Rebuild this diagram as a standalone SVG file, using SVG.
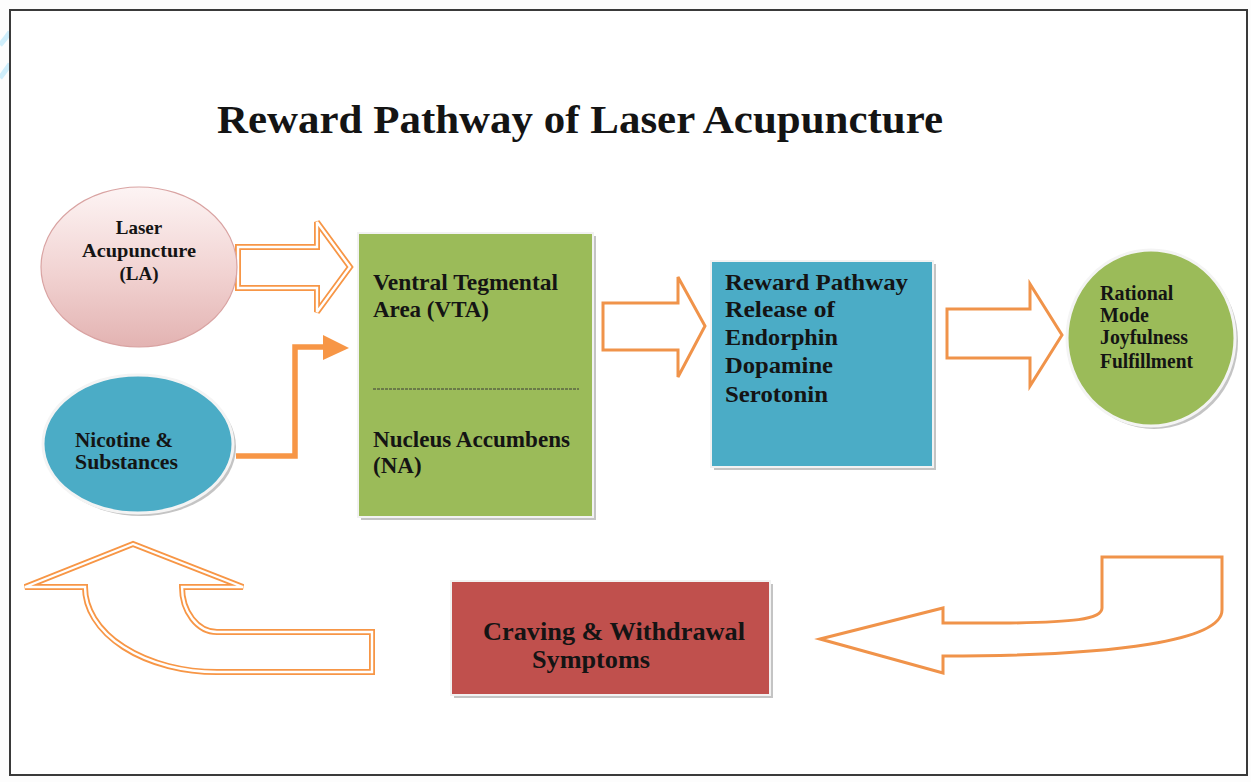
<svg xmlns="http://www.w3.org/2000/svg" width="1251" height="782" viewBox="0 0 1251 782">
<defs>
<linearGradient id="pinkGrad" x1="0" y1="0" x2="0" y2="1">
<stop offset="0" stop-color="#fdf4f4"/>
<stop offset="0.55" stop-color="#f1d2d1"/>
<stop offset="1" stop-color="#e3b3b2"/>
</linearGradient>
<style>
.t{font-family:"Liberation Serif","Times New Roman",serif;font-weight:bold;fill:#141414}
.dbl-o{fill:#fff;stroke:#f79646;stroke-width:6;stroke-linejoin:miter;stroke-miterlimit:3}
.dbl-i{fill:none;stroke:#fff;stroke-width:2.4;stroke-linejoin:miter;stroke-miterlimit:3}
.sgl{fill:#fff;stroke:#f0934a;stroke-width:3;stroke-linejoin:miter}
.shadow{fill:#c4c4c4}
</style>
</defs>
<rect x="0" y="0" width="1251" height="782" fill="#fdfdfd"/>
<path d="M0 45 Q6 38 10 32 M0 78 Q6 70 10 64" stroke="#cfeefb" stroke-width="5" fill="none"/>
<rect x="10" y="10" width="1237" height="765" fill="#fff" stroke="#3a3a3a" stroke-width="2"/>
<text class="t" x="217" y="133" font-size="41" textLength="726" lengthAdjust="spacingAndGlyphs">Reward Pathway of Laser Acupuncture</text>

<g id="connectors">
<g id="arrow-la-vta">
<path class="dbl-o" d="M238 247 L317 247 L317 222 L350 267 L317 312 L317 288 L238 288 Z"/>
<path class="dbl-i" d="M238 247 L317 247 L317 222 L350 267 L317 312 L317 288 L238 288 Z"/>
</g>
<g id="arrow-nic-vta">
<path d="M236 456 H295 V347 H326" fill="none" stroke="#f79646" stroke-width="5.5"/>
<polygon points="323,335 349,348 323,360" fill="#f79646"/>
</g>
<path id="arrow-vta-reward" class="sgl" d="M603 303 L678 303 L678 277 L705 326 L678 377 L678 350 L603 350 Z"/>
<path id="arrow-reward-rational" class="sgl" d="M947 309 L1030 309 L1030 284 L1062 335 L1030 386 L1030 358 L947 358 Z"/>
<path id="arrow-back-craving" class="sgl" stroke-width="2.6" d="M820 639 L943 608 L943 623 L1010 623 C1070 622 1102 620 1102 608 L1102 557 L1222 557 L1222 610 C1222 640 1120 656 943 656 L943 673 Z"/>
<g id="arrow-craving-nic">
<path class="dbl-o" d="M133 544 L25 587 L85 587 A132 85 0 0 0 217 672 L372 672 L372 632 L217 632 A35 45 0 0 1 182 587 L243 587 Z"/>
<path class="dbl-i" d="M133 544 L25 587 L85 587 A132 85 0 0 0 217 672 L372 672 L372 632 L217 632 A35 45 0 0 1 182 587 L243 587 Z"/>
</g>
</g>

<g id="node-la">
<ellipse cx="139" cy="267" rx="98" ry="80" fill="url(#pinkGrad)" stroke="#d9a3a2" stroke-width="1.2"/>
<text class="t" font-size="19" text-anchor="middle" x="139" y="234">Laser</text>
<text class="t" font-size="19" text-anchor="middle" x="139" y="257" textLength="114" lengthAdjust="spacingAndGlyphs">Acupuncture</text>
<text class="t" font-size="19" text-anchor="middle" x="139" y="280">(LA)</text>
</g>

<g id="node-nicotine">
<ellipse cx="141" cy="447" rx="95" ry="69" class="shadow"/>
<ellipse cx="138" cy="444" rx="95" ry="69" fill="#4bacc6" stroke="#f4f4f4" stroke-width="3"/>
<text class="t" font-size="20" x="75" y="447" textLength="98" lengthAdjust="spacingAndGlyphs">Nicotine &amp;</text>
<text class="t" font-size="20" x="75" y="469" textLength="103" lengthAdjust="spacingAndGlyphs">Substances</text>
</g>

<g id="node-vta">
<rect x="361" y="236" width="235" height="284" class="shadow"/>
<rect x="358" y="233" width="235" height="284" fill="#9bbb59" stroke="#f2f2f2" stroke-width="2"/>
<text class="t" font-size="23" x="373" y="290" textLength="185" lengthAdjust="spacingAndGlyphs">Ventral Tegmental</text>
<text class="t" font-size="23" x="373" y="317">Area (VTA)</text>
<line x1="373" y1="389" x2="579" y2="389" stroke="#3a3a3a" stroke-width="1" stroke-dasharray="3,1"/>
<text class="t" font-size="23" x="373" y="447" textLength="197" lengthAdjust="spacingAndGlyphs">Nucleus Accumbens</text>
<text class="t" font-size="23" x="373" y="473">(NA)</text>
</g>

<g id="node-reward">
<rect x="714" y="264" width="222" height="206" class="shadow"/>
<rect x="711" y="261" width="222" height="206" fill="#4bacc6" stroke="#f2f2f2" stroke-width="2"/>
<text class="t" font-size="24" x="725" y="290" textLength="183" lengthAdjust="spacingAndGlyphs">Reward Pathway</text>
<text class="t" font-size="24" x="725" y="317" textLength="110" lengthAdjust="spacingAndGlyphs">Release of</text>
<text class="t" font-size="24" x="725" y="345" textLength="113" lengthAdjust="spacingAndGlyphs">Endorphin</text>
<text class="t" font-size="24" x="725" y="373" textLength="108" lengthAdjust="spacingAndGlyphs">Dopamine</text>
<text class="t" font-size="24" x="725" y="402" textLength="103" lengthAdjust="spacingAndGlyphs">Serotonin</text>
</g>

<g id="node-rational">
<ellipse cx="1154" cy="341" rx="84" ry="88" class="shadow"/>
<ellipse cx="1151" cy="338" rx="84" ry="88" fill="#9bbb59" stroke="#f4f4f4" stroke-width="3"/>
<text class="t" font-size="20" x="1100" y="300">Rational</text>
<text class="t" font-size="20" x="1100" y="322">Mode</text>
<text class="t" font-size="20" x="1100" y="344" textLength="88" lengthAdjust="spacingAndGlyphs">Joyfulness</text>
<text class="t" font-size="20" x="1100" y="368" textLength="93" lengthAdjust="spacingAndGlyphs">Fulfillment</text>
</g>

<g id="node-craving">
<rect x="454" y="584" width="319" height="114" class="shadow"/>
<rect x="451" y="581" width="319" height="114" fill="#c0504d" stroke="#f2f2f2" stroke-width="2"/>
<text class="t" font-size="25" x="483" y="640" textLength="262" lengthAdjust="spacingAndGlyphs">Craving &amp; Withdrawal</text>
<text class="t" font-size="25" x="532" y="668" textLength="118" lengthAdjust="spacingAndGlyphs">Symptoms</text>
</g>
</svg>
